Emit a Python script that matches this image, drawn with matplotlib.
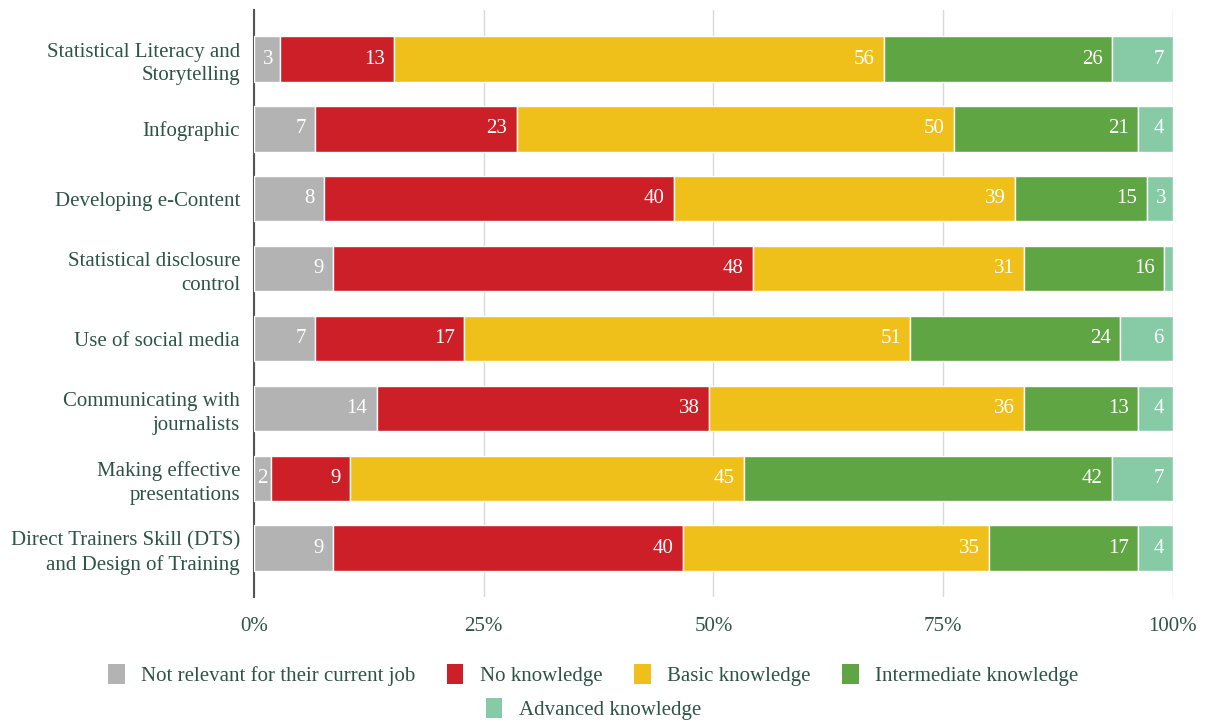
import matplotlib.pyplot as plt
import numpy as np
from matplotlib.patches import Patch

plt.rcParams['font.family'] = ['Liberation Serif', 'DejaVu Serif']

skills = ['Statistical Literacy and\nStorytelling', 'Infographic', 'Developing e-Content',
          'Statistical disclosure\ncontrol', 'Use of social media',
          'Communicating with\njournalists', 'Making effective\npresentations',
          'Direct Trainers Skill (DTS)\nand Design of Training']
levels = ['Not relevant for their current job', 'No knowledge', 'Basic knowledge',
          'Intermediate knowledge', 'Advanced knowledge']

not_relevant = [3, 7, 8, 9, 7, 14, 2, 9]
no_knowledge = [13, 23, 40, 48, 17, 38, 9, 40]
basic = [56, 50, 39, 31, 51, 36, 45, 35]
intermediate = [26, 21, 15, 16, 24, 13, 42, 17]
advanced = [7, 4, 3, 1, 6, 4, 7, 4]

colors = ['#b3b3b3', '#cc1f27', '#f0c01a', '#5fa544', '#86cba6']
text_col = '#2e5448'

counts = np.array([not_relevant, no_knowledge, basic, intermediate, advanced], dtype=float)
totals = counts.sum(axis=0)
shares = counts / totals * 100

fig = plt.figure(figsize=(12.06, 7.22), dpi=100)
ax = fig.add_axes([0.2106, 0.173, 0.762, 0.813])

y = np.arange(len(skills))
left = np.zeros(len(skills))
for k in range(len(levels)):
    ax.barh(y, shares[k], left=left, height=0.65, color=colors[k],
            edgecolor='white', linewidth=1, zorder=3)
    for i in range(len(skills)):
        if counts[k][i] >= 2:
            # narrow segments get less padding so the number stays inside
            pad = min(1.0, shares[k][i] / 4)
            ax.text(left[i] + shares[k][i] - pad, y[i], '%d' % counts[k][i],
                    ha='right', va='center', color='white', fontsize=15, zorder=4)
    left += shares[k]

ax.set_xlim(0, 100)
ax.set_ylim(7.7, -0.7)
ax.set_yticks(y)
ax.set_yticklabels(skills, fontsize=15, color=text_col, linespacing=1.35)
ax.set_xticks([0, 25, 50, 75, 100])
ax.set_xticklabels(['0%', '25%', '50%', '75%', '100%'], fontsize=15, color=text_col)
ax.tick_params(axis='y', length=0, pad=10)
ax.tick_params(axis='x', length=0, pad=14)
ax.grid(axis='x', color='#d9d9d9', linewidth=1, zorder=0)
for s in ['top', 'right', 'bottom']:
    ax.spines[s].set_visible(False)
ax.spines['left'].set_color('#555555')
ax.spines['left'].set_linewidth(1.5)

handles = [Patch(facecolor=c, edgecolor='none') for c in colors]
kw = dict(frameon=False, fontsize=15, handlelength=0.8, handleheight=1.1,
          handletextpad=0.8, columnspacing=1.5, labelcolor=text_col)
fig.legend(handles[:4], levels[:4], ncol=4, loc='center', bbox_to_anchor=(0.492, 0.065), **kw)
fig.legend(handles[4:], levels[4:], ncol=1, loc='center', bbox_to_anchor=(0.492, 0.018), **kw)

fig.savefig('out.png', dpi=100)
